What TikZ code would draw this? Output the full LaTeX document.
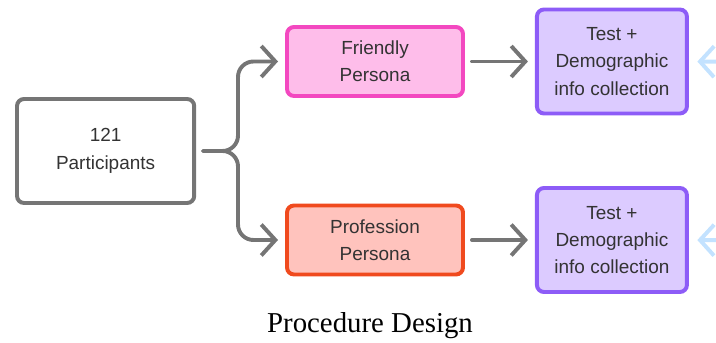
\documentclass[tikz,border=0pt]{standalone}
\usepackage{fontspec}
\setmainfont{Liberation Serif}
\setsansfont{Liberation Sans}
\usepackage{tikz}
\usetikzlibrary{positioning}
\usetikzlibrary{arrows.meta}

\definecolor{linegray}{HTML}{757575}
\definecolor{textgray}{HTML}{333333}
\definecolor{pinkfill}{HTML}{FEBDEA}
\definecolor{pinkline}{HTML}{F348C0}
\definecolor{salmonfill}{HTML}{FFC3BD}
\definecolor{salmonline}{HTML}{F04A1E}
\definecolor{lilacfill}{HTML}{DCCBFF}
\definecolor{lilacline}{HTML}{8D5CF7}
\definecolor{skyline}{HTML}{C3E2FF}

\tikzset{
	stage/.style={draw, line width=2.8pt, rounded corners=5pt, align=center, inner sep=0pt,
		font=\sffamily\fontsize{13.5}{19.5}\selectfont, text=textgray},
	flow/.style={draw=linegray, line width=2.8pt, line cap=round, line join=round,
		-{Straight Barb[length=10pt, width=22pt]}, shorten <=5pt, shorten >=5pt},
}

\begin{document}
\begin{tikzpicture}
			\clip (0, 0) rectangle (17.9, 8.575);
			\node (part) at (2.64, 4.8) [stage, draw=linegray, fill=white, minimum width=4.43cm, minimum height=2.6cm] {121\\Participants};
			\node (friendly) at (9.375, 7.0375) [stage, draw=pinkline, fill=pinkfill, minimum width=4.4cm, minimum height=1.725cm] {Friendly\\Persona};
			\node (profession) at (9.375, 2.575) [stage, draw=salmonline, fill=salmonfill, minimum width=4.4cm, minimum height=1.725cm] {Profession\\Persona};
			\node [right=1.75cm of friendly, stage, draw=lilacline, fill=lilacfill, minimum width=3.75cm, minimum height=2.6cm] (testA) {Test +\\Demographic\\info collection};
			\node [right=1.75cm of profession, stage, draw=lilacline, fill=lilacfill, minimum width=3.75cm, minimum height=2.6cm] (testB) {Test +\\Demographic\\info collection};
			% split point of the brace
			\coordinate (split) at (5.95, 4.8);
			\draw [flow, rounded corners=11pt] (part.east) -- (split) |- (friendly.west);
			\draw [flow, rounded corners=11pt] (part.east) -- (split) |- (profession.west);
			\draw [flow] (friendly) -- (testA);
			\draw [flow] (profession) -- (testB);
			% arrows coming in from the right
			\coordinate (inA) at (19, 7.025);
			\coordinate (inB) at (19, 2.5625);
			\draw [flow, draw=skyline, shorten <=0pt, shorten >=6pt] (inA) -- (testA.east);
			\draw [flow, draw=skyline, shorten <=0pt, shorten >=6pt] (inB) -- (testB.east);
			\node (caption) at (9.25, 0.425) [font=\fontsize{20.5}{24}\selectfont] {Procedure Design};
		\end{tikzpicture}
\end{document}
